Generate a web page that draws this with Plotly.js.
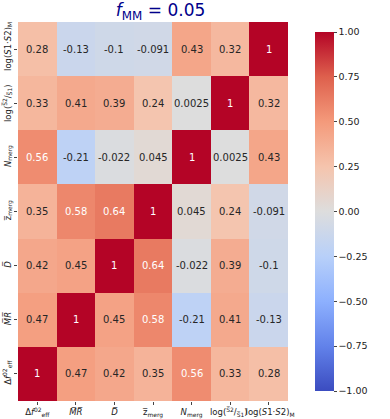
<!DOCTYPE html>
<html>
<head>
<meta charset="utf-8">
<script src="https://cdn.plot.ly/plotly-3.0.1.min.js"></script>
<style>body{margin:0;background:#fff}</style>
</head>
<body>
<div id="myPlot" style="width:390px;height:419px"></div>
<script>
// etiquetas de las variables (de abajo hacia arriba / de izquierda a derecha)
const etiquetas = [
  'Δ<i>f</i><sup>02</sup><sub>eff</sub>',
  '<i>M̅R̅</i>',
  '<i>D̅</i>',
  'z̅<sub>merg</sub>',
  '<i>N</i><sub>merg</sub>',
  'log(<sup>S̅2</sup>/<sub>S̅1</sub>)\u00a0',
  '\u00a0log(<i>S</i>1·<i>S</i>2)<sub>M</sub>'
];

// filas de la matriz de correlacion, en el mismo orden que las etiquetas
const filaDf = [1, 0.47, 0.42, 0.35, 0.56, 0.33, 0.28];
const filaMR = [0.47, 1, 0.45, 0.58, -0.21, 0.41, -0.13];
const filaD = [0.42, 0.45, 1, 0.64, -0.022, 0.39, -0.1];
const filaZ = [0.35, 0.58, 0.64, 1, 0.045, 0.24, -0.091];
const filaN = [0.56, -0.21, -0.022, 0.045, 1, 0.0025, 0.43];
const filaS2S1 = [0.33, 0.41, 0.39, 0.24, 0.0025, 1, 0.32];
const filaS1S2 = [0.28, -0.13, -0.1, -0.091, 0.43, 0.32, 1];

const barraVals = [-1, -0.75, -0.5, -0.25, 0, 0.25, 0.5, 0.75, 1];

const z = [filaDf, filaMR, filaD, filaZ, filaN, filaS2S1, filaS1S2];

// escala coolwarm de matplotlib
const coolwarm = [
  [0, 'rgb(59,76,192)'],
  [0.125, 'rgb(98,130,234)'],
  [0.25, 'rgb(141,176,254)'],
  [0.375, 'rgb(184,208,249)'],
  [0.5, 'rgb(221,221,221)'],
  [0.625, 'rgb(245,196,173)'],
  [0.75, 'rgb(244,154,123)'],
  [0.875, 'rgb(222,96,77)'],
  [1, 'rgb(180,4,38)']
];

const fuente = 'DejaVu Sans, sans-serif';

const trace = {
  type: 'heatmap',
  x: etiquetas,
  y: etiquetas,
  z: z,
  zmin: -1,
  zmax: 1,
  colorscale: coolwarm,
  hoverinfo: 'none',
  colorbar: {
    x: 1.062,
    xanchor: 'left',
    thickness: 19,
    len: 1,
    y: 0.5,
    outlinewidth: 0,
    tickvals: barraVals,
    ticktext: barraVals.map(v => (v < 0 ? '−' : '') + Math.abs(v).toFixed(2)),
    ticks: 'outside',
    ticklen: 3,
    tickfont: { family: fuente, size: 9.5, color: '#222' }
  }
};

// anotaciones con el valor de cada celda
let anotaciones = [];
z.forEach((fila, i) => {
  fila.forEach((v, j) => {
    anotaciones.push({
      x: etiquetas[j],
      y: etiquetas[i],
      text: String(Number(v.toPrecision(2))),
      showarrow: false,
      font: { family: fuente, size: 10, color: v >= 0.5 ? '#ffffff' : '#262626' }
    });
  });
});

const layout = {
  width: 390,
  height: 419,
  margin: { l: 18, r: 65, t: 22, b: 18 },
  paper_bgcolor: '#fff',
  plot_bgcolor: '#fff',
  title: {
    text: '<i>f</i><sub>MM</sub> = 0.05',
    font: { family: fuente, size: 17, color: '#00008b' },
    xref: 'paper',
    x: 0.528,
    xanchor: 'center',
    yref: 'container',
    y: 0.99,
    yanchor: 'top'
  },
  xaxis: {
    type: 'category',
    automargin: false,
    tickangle: 0,
    ticks: 'outside',
    ticklen: 3,
    tickfont: { family: fuente, size: 8.5, color: '#222' },
    showgrid: false,
    zeroline: false
  },
  yaxis: {
    type: 'category',
    automargin: false,
    tickangle: -90,
    ticks: 'outside',
    ticklen: 3,
    tickfont: { family: fuente, size: 8.5, color: '#222' },
    showgrid: false,
    zeroline: false
  },
  annotations: anotaciones
};

Plotly.newPlot('myPlot', [trace], layout, { displayModeBar: false });
</script>
</body>
</html>
